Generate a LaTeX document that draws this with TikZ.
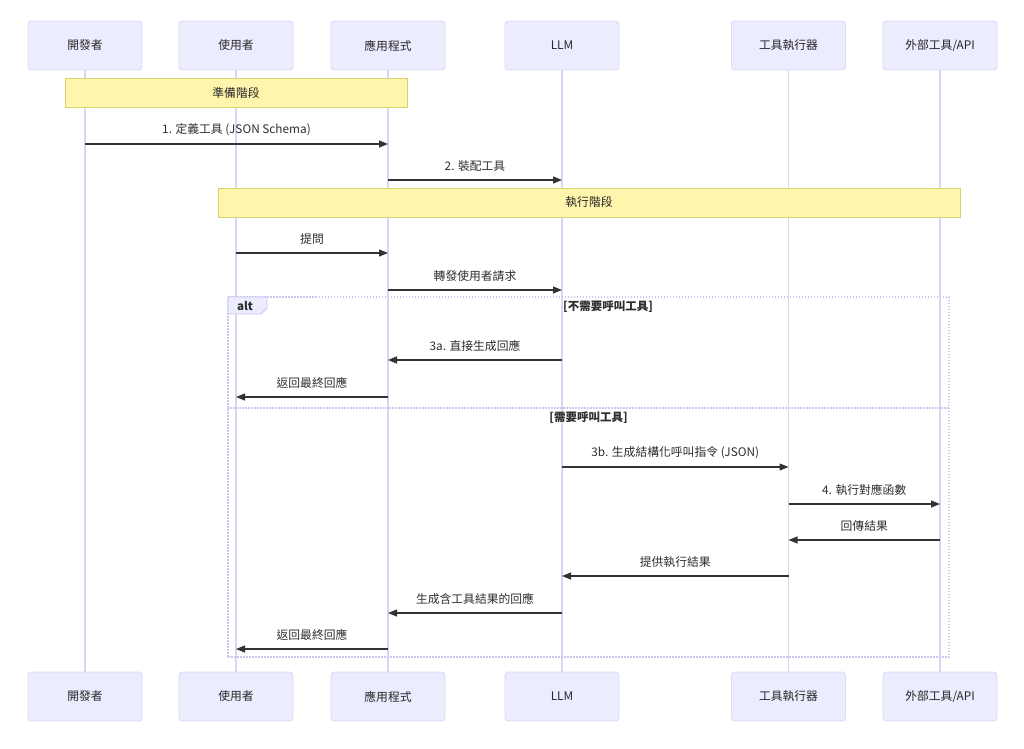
\documentclass[tikz,border=0pt]{standalone}
\usepackage{fontspec}
\setmainfont{Noto Sans CJK TC}
\usetikzlibrary{arrows.meta}
\definecolor{actfill}{HTML}{ECECFF}
\definecolor{actdraw}{HTML}{DDD8F6}
\definecolor{lifec}{HTML}{DAD5F3}
\definecolor{notefill}{HTML}{FFF5AD}
\definecolor{notedraw}{HTML}{D6D36A}
\definecolor{msgc}{HTML}{333333}
\definecolor{altc}{HTML}{CEC6EE}
\tikzset{
  actor/.style={draw=actdraw, line width=0.8pt, fill=actfill, rounded corners=3pt, minimum width=114pt, minimum height=49pt, inner sep=0pt, font=\fontsize{11.8}{13}\selectfont, text=black!85},
  life/.style={draw=lifec, line width=1.1pt},
  msg/.style={draw=msgc, line width=1.1pt, -{Triangle[length=9pt,width=7pt]}},
  lbl/.style={font=\fontsize{11.8}{13}\selectfont, text=black!82, inner sep=0pt},
  notebox/.style={draw=notedraw, line width=0.8pt, fill=notefill, inner sep=0pt, font=\fontsize{11.8}{13}\selectfont, text=black!85},
  altframe/.style={draw=altc, line width=1.3pt, dash pattern=on 1.5pt off 1.5pt},
  seclbl/.style={font=\bfseries\fontsize{11.5}{13}\selectfont, text=black!82, inner sep=0pt}
}
\begin{document}
\begin{tikzpicture}[x=1pt, y=-1pt]
\useasboundingbox (0,0) rectangle (1024,748);
\fill[white] (0,0) rectangle (1024,748);
% actors top
\node[actor] (tDev) at (85,45.5) {開發者};
\node[actor] (tUser) at (236,45.5) {使用者};
\node[actor] (tApp) at (388,45.5) {應用程式};
\node[actor] (tLLM) at (562,45.5) {LLM};
\node[actor] (tExec) at (788.5,45.5) {工具執行器};
\node[actor] (tAPI) at (940,45.5) {外部工具/API};
% actors bottom
\node[actor] (bDev) at (85,696.5) {開發者};
\node[actor] (bUser) at (236,696.5) {使用者};
\node[actor] (bApp) at (388,696.5) {應用程式};
\node[actor] (bLLM) at (562,696.5) {LLM};
\node[actor] (bExec) at (788.5,696.5) {工具執行器};
\node[actor] (bAPI) at (940,696.5) {外部工具/API};
% lifelines
\draw[life] (tDev.south) -- (bDev.north);
\draw[life] (tUser.south) -- (bUser.north);
\draw[life] (tApp.south) -- (bApp.north);
\draw[life] (tLLM.south) -- (bLLM.north);
\draw[life] (tExec.south) -- (bExec.north);
\draw[life] (tAPI.south) -- (bAPI.north);
% notes
\node[notebox, minimum width=342pt, minimum height=29pt] (prep) at (236,92.5) {準備階段};
\node[notebox, minimum width=742pt, minimum height=29pt] (exec) at (589,202.5) {執行階段};
% messages
\draw[msg] (tDev |- 0,144) -- (tApp |- 0,144) node[lbl, midway, yshift=14pt] {1. 定義工具 (JSON Schema)};
\draw[msg] (tApp |- 0,180) -- (tLLM |- 0,180) node[lbl, midway, yshift=14pt] {2. 裝配工具};
\draw[msg] (tUser |- 0,253) -- (tApp |- 0,253) node[lbl, midway, yshift=14pt] {提問};
\draw[msg] (tApp |- 0,290) -- (tLLM |- 0,290) node[lbl, midway, yshift=14pt] {轉發使用者請求};
% alt frame
\node[altframe, minimum width=721pt, minimum height=360pt, inner sep=0pt] (alt) at (588.5,477) {};
\draw[altframe] (alt.west |- 0,408) -- (alt.east |- 0,408);
\path[fill=actfill, draw=altc, line width=0.8pt] (228,297) -- (267,297) -- (267,308) -- (261,314) -- (228,314) -- cycle;
\node[seclbl] (altlbl) at (245,305.5) {alt};
\node[seclbl] (sec1) at (608,307) {[不需要呼叫工具]};
\node[seclbl] (sec2) at (588.5,418) {[需要呼叫工具]};
% alt messages
\draw[msg] (tLLM |- 0,360) -- (tApp |- 0,360) node[lbl, midway, yshift=14pt] {3a. 直接生成回應};
\draw[msg] (tApp |- 0,397) -- (tUser |- 0,397) node[lbl, midway, yshift=14pt] {返回最終回應};
\draw[msg] (tLLM |- 0,467) -- (tExec |- 0,467) node[lbl, midway, yshift=14pt] {3b. 生成結構化呼叫指令 (JSON)};
\draw[msg] (tExec |- 0,504) -- (tAPI |- 0,504) node[lbl, midway, yshift=14pt] {4. 執行對應函數};
\draw[msg] (tAPI |- 0,540) -- (tExec |- 0,540) node[lbl, midway, yshift=14pt] {回傳結果};
\draw[msg] (tExec |- 0,576) -- (tLLM |- 0,576) node[lbl, midway, yshift=14pt] {提供執行結果};
\draw[msg] (tLLM |- 0,613) -- (tApp |- 0,613) node[lbl, midway, yshift=14pt] {生成含工具結果的回應};
\draw[msg] (tApp |- 0,649) -- (tUser |- 0,649) node[lbl, midway, yshift=14pt] {返回最終回應};
\end{tikzpicture}
\end{document}
